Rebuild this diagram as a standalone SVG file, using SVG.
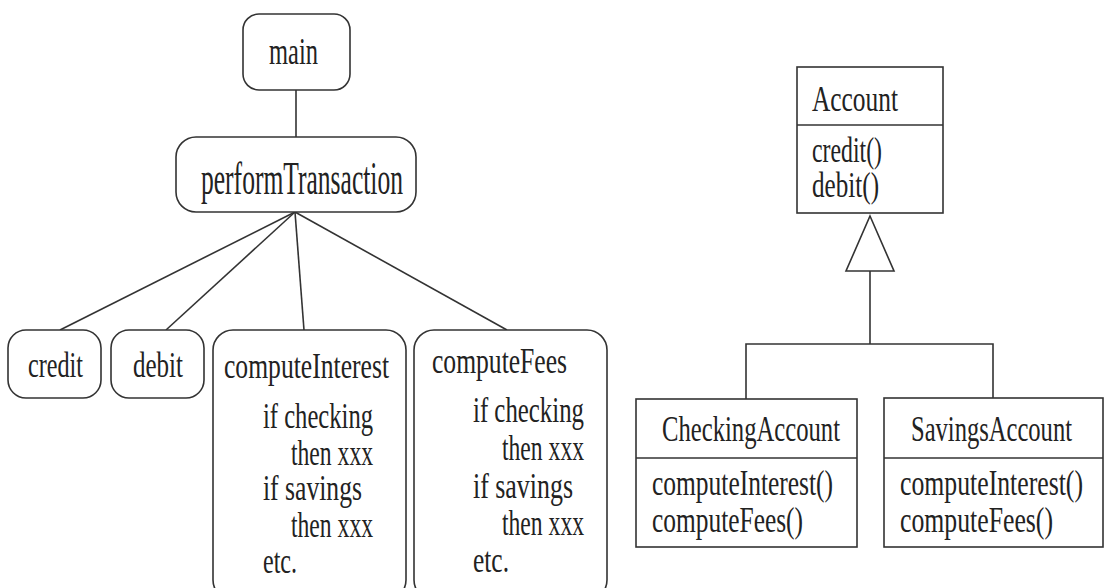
<svg xmlns="http://www.w3.org/2000/svg" width="1106" height="588" viewBox="0 0 1106 588">
  <style>
    .box { fill: #fff; stroke: #333; stroke-width: 1.6; }
    .link { fill: none; stroke: #333; stroke-width: 1.6; }
    text { font-family: "Liberation Serif", "Times New Roman", serif; font-size: 35px; fill: #222; }
    .mid { font-size: 38px; }
    .big { font-size: 46px; }
  </style>
  <rect width="1106" height="588" fill="#fff"/>

  <!-- connectors -->
  <g id="connectors">
    <line class="link" x1="296" y1="90" x2="296" y2="137"/>
    <line class="link" x1="295" y1="212" x2="60" y2="330"/>
    <line class="link" x1="295" y1="212" x2="166" y2="330"/>
    <line class="link" x1="295" y1="212" x2="304" y2="330"/>
    <line class="link" x1="295" y1="212" x2="507" y2="330"/>
    <!-- generalization -->
    <polygon class="box" points="870,216 894,271 846,271"/>
    <polyline class="link" points="870,271 870,344"/>
    <polyline class="link" points="746,399 746,344 993,344 993,398"/>
  </g>

  <g id="main">
    <rect class="box" x="243" y="14" width="107" height="76" rx="16"/>
    <text class="mid" x="269" y="64" textLength="49" lengthAdjust="spacingAndGlyphs">main</text>
  </g>

  <g id="performTransaction">
    <rect class="box" x="176" y="137" width="240" height="75" rx="20"/>
    <text class="big" x="201" y="194" textLength="202" lengthAdjust="spacingAndGlyphs">performTransaction</text>
  </g>

  <g id="credit">
    <rect class="box" x="8" y="330" width="93" height="68" rx="18"/>
    <text x="28" y="377" textLength="55" lengthAdjust="spacingAndGlyphs">credit</text>
  </g>

  <g id="debit">
    <rect class="box" x="111" y="330" width="93" height="68" rx="18"/>
    <text x="133" y="377" textLength="50" lengthAdjust="spacingAndGlyphs">debit</text>
  </g>

  <g id="computeInterest">
    <rect class="box" x="213" y="330" width="193" height="270" rx="20"/>
    <text x="224" y="378" textLength="165" lengthAdjust="spacingAndGlyphs">computeInterest</text>
    <text x="263" y="428" textLength="110" lengthAdjust="spacingAndGlyphs">if checking</text>
    <text x="291" y="465" textLength="82" lengthAdjust="spacingAndGlyphs">then xxx</text>
    <text x="263" y="500" textLength="99" lengthAdjust="spacingAndGlyphs">if savings</text>
    <text x="291" y="537" textLength="82" lengthAdjust="spacingAndGlyphs">then xxx</text>
    <text x="263" y="573" textLength="34" lengthAdjust="spacingAndGlyphs">etc.</text>
  </g>

  <g id="computeFees">
    <rect class="box" x="414" y="330" width="193" height="270" rx="20"/>
    <text x="432" y="373" textLength="135" lengthAdjust="spacingAndGlyphs">computeFees</text>
    <text x="473" y="422" textLength="111" lengthAdjust="spacingAndGlyphs">if checking</text>
    <text x="502" y="460" textLength="82" lengthAdjust="spacingAndGlyphs">then xxx</text>
    <text x="473" y="498" textLength="100" lengthAdjust="spacingAndGlyphs">if savings</text>
    <text x="502" y="535" textLength="82" lengthAdjust="spacingAndGlyphs">then xxx</text>
    <text x="473" y="572" textLength="36" lengthAdjust="spacingAndGlyphs">etc.</text>
  </g>

  <g id="Account">
    <rect class="box" x="797" y="67" width="146" height="146"/>
    <line class="link" x1="797" y1="125" x2="943" y2="125"/>
    <text x="812" y="111" textLength="86" lengthAdjust="spacingAndGlyphs">Account</text>
    <text x="812" y="162" textLength="70" lengthAdjust="spacingAndGlyphs">credit()</text>
    <text x="812" y="197" textLength="67" lengthAdjust="spacingAndGlyphs">debit()</text>
  </g>

  <g id="CheckingAccount">
    <rect class="box" x="636" y="399" width="221" height="148"/>
    <line class="link" x1="636" y1="458" x2="857" y2="458"/>
    <text x="662" y="441" textLength="178" lengthAdjust="spacingAndGlyphs">CheckingAccount</text>
    <text x="652" y="495" textLength="181" lengthAdjust="spacingAndGlyphs">computeInterest()</text>
    <text x="652" y="532" textLength="151" lengthAdjust="spacingAndGlyphs">computeFees()</text>
  </g>

  <g id="SavingsAccount">
    <rect class="box" x="884" y="398" width="219" height="149"/>
    <line class="link" x1="884" y1="458" x2="1103" y2="458"/>
    <text x="911" y="441" textLength="161" lengthAdjust="spacingAndGlyphs">SavingsAccount</text>
    <text x="900" y="495" textLength="183" lengthAdjust="spacingAndGlyphs">computeInterest()</text>
    <text x="900" y="532" textLength="153" lengthAdjust="spacingAndGlyphs">computeFees()</text>
  </g>
</svg>
